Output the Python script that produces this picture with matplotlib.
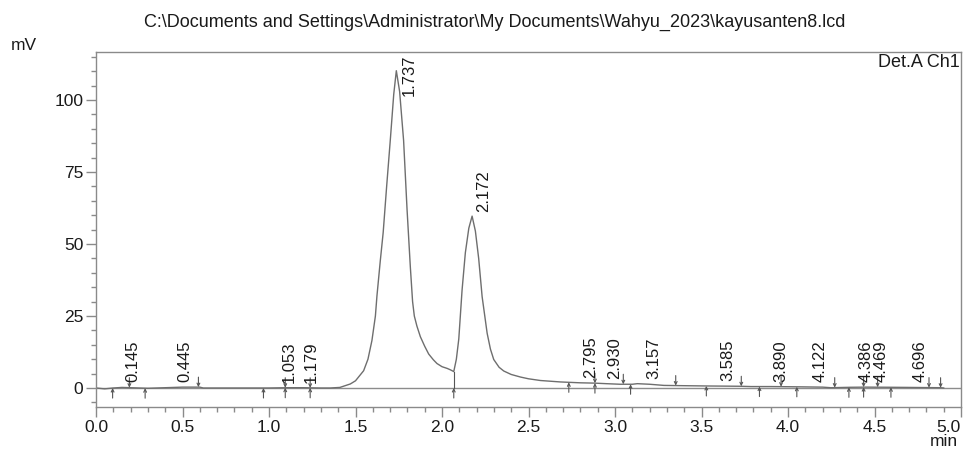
import numpy as np
import matplotlib
matplotlib.use("Agg")
import matplotlib.pyplot as plt
from matplotlib.ticker import MultipleLocator

plt.rcParams['font.family'] = ['Liberation Sans', 'DejaVu Sans']

# Detector trace (time in min, signal in mV)
time_min = [0.00, 0.05, 0.10, 0.15, 0.20, 0.30, 0.45, 0.50, 0.60, 0.62, 0.80,
            1.00, 1.10, 1.20, 1.30, 1.354, 1.41, 1.47, 1.50, 1.547, 1.572,
            1.595, 1.615, 1.624, 1.643, 1.660, 1.680, 1.701, 1.721, 1.736,
            1.755, 1.778, 1.798, 1.817, 1.830, 1.840, 1.855, 1.875, 1.900,
            1.923, 1.950, 1.971, 2.000, 2.030, 2.049, 2.068, 2.083, 2.097,
            2.116, 2.135, 2.155, 2.174, 2.193, 2.212, 2.232, 2.261, 2.280,
            2.299, 2.330, 2.357, 2.400, 2.454, 2.500, 2.569, 2.685, 2.800,
            2.878, 2.950, 3.030, 3.100, 3.129, 3.200, 3.283, 3.400, 3.534,
            3.727, 3.785, 3.900, 4.074, 4.200, 4.248, 4.363, 4.450, 4.595,
            4.700, 4.884, 4.900]
signal_mv = [0.0, -0.3, 0.0, 0.2, 0.1, -0.1, 0.2, 0.3, 0.3, 0.0, 0.0,
             0.0, 0.1, 0.1, 0.0, 0.0, 0.2, 1.4, 2.5, 6.0, 10.0,
             16.5, 25.0, 32.0, 44.0, 54.0, 70.0, 86.0, 102.0, 110.2,
             103.0, 86.0, 62.0, 42.0, 30.0, 25.0, 21.5, 17.8, 14.5,
             11.8, 9.8, 8.5, 7.4, 6.8, 6.3, 5.7, 10.0, 17.0,
             34.0, 47.0, 55.5, 59.7, 54.5, 45.0, 31.7, 19.0, 13.5,
             9.9, 7.2, 5.9, 4.7, 3.8, 3.2, 2.6, 2.1, 1.8,
             1.7, 1.5, 1.3, 1.3, 1.5, 1.3, 0.9, 0.8, 0.7,
             0.6, 0.5, 0.5, 0.4, 0.3, 0.1, 0.25, 0.3, 0.25,
             0.2, 0.1, 0.0]

# Retention times of the integrated peaks
peak_rt = [0.145, 0.445, 1.053, 1.179, 1.737, 2.172, 2.795, 2.930, 3.157,
           3.585, 3.890, 4.122, 4.386, 4.469, 4.696]

# Integration start / end marks
peak_start = [0.096, 0.284, 0.968, 1.094, 1.238, 2.068, 2.733, 2.884, 3.090,
              3.528, 3.835, 4.051, 4.352, 4.437, 4.595]
peak_end = [0.193, 0.592, 1.094, 1.238, 2.884, 3.048, 3.351, 3.730, 3.960,
            4.270, 4.437, 4.518, 4.815, 4.882]
valley_drop = [2.068]

x_ticks = [0.0, 0.5, 1.0, 1.5, 2.0, 2.5, 3.0, 3.5, 4.0, 4.5, 5.0]
y_ticks = [0, 25, 50, 75, 100]

title = r"C:\Documents and Settings\Administrator\My Documents\Wahyu_2023\kayusanten8.lcd"

fig = plt.figure(figsize=(9.64, 4.54), dpi=100)
ax = fig.add_axes([96 / 964, 47 / 454, 865 / 964, 355 / 454])

axis_grey = '#8a8a8a'
trace_grey = '#6e6e6e'
mark_grey = '#555555'
text_col = '#1a1a1a'

ax.axhline(0, color='#8c8c8c', lw=1.0, zorder=1)
ax.plot(time_min, signal_mv, color=trace_grey, lw=1.0, zorder=2)

ax.set_xlim(0, 5)
ax.set_ylim(-6.6, 116.7)

ax.set_xticks(x_ticks)
ax.set_xticklabels([f"{v:.1f}" for v in x_ticks])
ax.set_yticks(y_ticks)
ax.set_yticklabels([str(v) for v in y_ticks])
ax.xaxis.set_minor_locator(MultipleLocator(0.1))
ax.yaxis.set_minor_locator(MultipleLocator(5))

for s in ax.spines.values():
    s.set_color(axis_grey)
    s.set_linewidth(1.0)

ax.tick_params(axis='both', which='major', direction='out', length=7,
               width=1.0, color=axis_grey, labelsize=12.5, labelcolor=text_col,
               pad=2)
ax.tick_params(axis='both', which='minor', direction='out', length=3.6,
               width=1.0, color=axis_grey)
# keep the last x label inside the figure
ax.get_xticklabels()[-1].set_horizontalalignment('right')


def trace_at(t):
    return float(np.interp(t, time_min, signal_mv))


arrow_kw = dict(arrowstyle='->', color=mark_grey, lw=0.8, shrinkA=0,
                shrinkB=0, mutation_scale=5)

for t in peak_start:
    y = trace_at(t) if t not in valley_drop else 0.0
    ax.annotate('', xy=(t, y), xytext=(0, -10), textcoords='offset pixels',
                xycoords='data', arrowprops=arrow_kw, zorder=3)

for t in peak_end:
    y = trace_at(t)
    ax.annotate('', xy=(t, y), xytext=(0, 10), textcoords='offset pixels',
                xycoords='data', arrowprops=arrow_kw, zorder=3)

for t in valley_drop:
    ax.plot([t, t], [0, trace_at(t)], color=mark_grey, lw=0.8, zorder=3)

# Retention-time labels, rotated above each apex
top_lim = ax.get_ylim()[1]
for t in peak_rt:
    y = trace_at(t)
    if y > 100:
        ax.annotate(f"{t:.3f}", xy=(t, top_lim), xytext=(5, -3),
                    textcoords='offset pixels', rotation=90, ha='left',
                    va='top', fontsize=12, color=text_col)
    else:
        ax.annotate(f"{t:.3f}", xy=(t, y), xytext=(4, 5),
                    textcoords='offset pixels', rotation=90, ha='left',
                    va='bottom', fontsize=12, color=text_col)

ax.text(0.999, 0.995, "Det.A Ch1", transform=ax.transAxes, ha='right',
        va='top', fontsize=13, color=text_col)

fig.text(495 / 964, 1 - 22 / 454, title, ha='center', va='center',
         fontsize=13, color=text_col)
fig.text(11 / 964, 1 - 45 / 454, "mV", ha='left', va='center', fontsize=12.5,
         color=text_col)
fig.text(958 / 964, 1 - 442 / 454, "min", ha='right', va='center',
         fontsize=12.5, color=text_col)

fig.savefig("out.png", dpi=100, facecolor='white')
